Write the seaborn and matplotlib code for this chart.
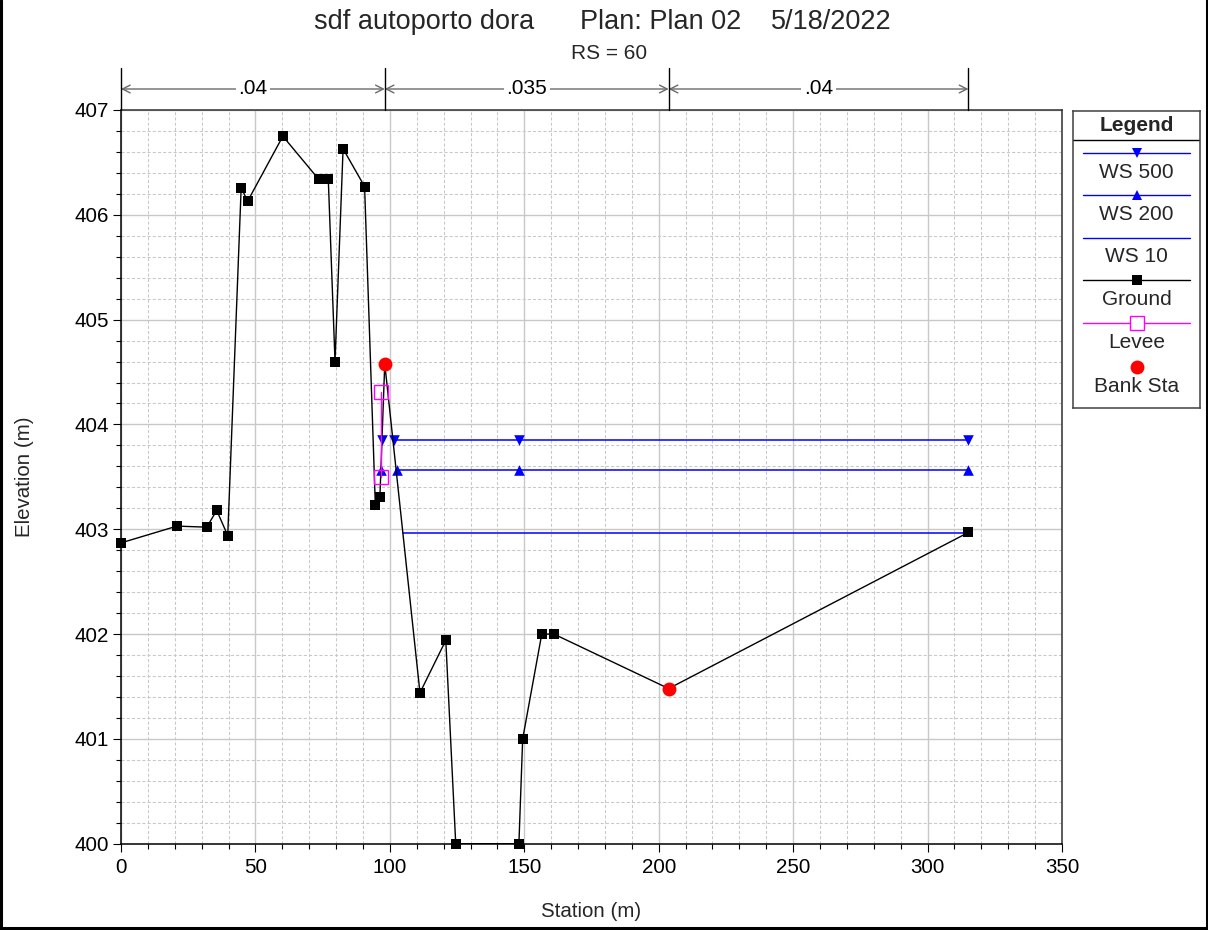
import numpy as np
import pandas as pd
import matplotlib
matplotlib.use("Agg")
import matplotlib.pyplot as plt
import matplotlib.transforms as mtransforms
from matplotlib.lines import Line2D
from matplotlib.ticker import MultipleLocator, FixedLocator
import seaborn as sns

# ---------------- cross-section data ----------------
ground_station = [0.0, 20.8, 31.9, 35.6, 39.7, 44.7, 47.1, 60.2, 73.5, 77.1,
                  79.6, 82.6, 90.6, 94.6, 96.3, 98.1, 111.2, 120.8, 124.5,
                  148.0, 149.4, 156.5, 161.0, 203.7, 315.2]
ground_elev = [402.87, 403.03, 403.02, 403.18, 402.94, 406.26, 406.13, 406.75,
               406.34, 406.34, 404.60, 406.63, 406.27, 403.23, 403.31, 404.58,
               401.44, 401.94, 400.00, 400.00, 401.00, 402.00, 402.00, 401.48,
               402.97]

bank_station = [98.1, 203.7]
bank_elev = [404.58, 401.48]

levee_station = [96.65, 96.65]
levee_elev = [404.31, 403.50]

ws500_elev = 403.85
ws500_segments = [(96.65, 97.07), (101.15, 315.2)]
ws500_marks = [96.9, 101.5, 148.0, 315.2]

ws200_elev = 403.57
ws200_segments = [(96.65, 96.68), (102.3, 315.2)]
ws200_marks = [96.65, 102.6, 148.0, 315.2]

ws10_elev = 402.96
ws10_segments = [(104.9, 315.2)]

n_bounds = [0.0, 98.1, 203.7, 315.2]
n_values = [".04", ".035", ".04"]

x_ticks = [0, 50, 100, 150, 200, 250, 300, 350]
y_ticks = [400, 401, 402, 403, 404, 405, 406, 407]

legend_labels = ["WS 500", "WS 200", "WS 10", "Ground", "Levee", "Bank Sta"]

title_parts = ["sdf autoporto dora", "Plan: Plan 02", "5/18/2022"]
subtitle = "RS = 60"

# ---------------- style ----------------
sns.set_style("white")
plt.rcParams["font.family"] = ["Liberation Sans", "DejaVu Sans"]

W, H = 1208, 930
fig = plt.figure(figsize=(W / 100, H / 100), dpi=100)
fig.patch.set_facecolor("white")

# main axes placed in pixel terms
L, R, T, B = 121, 1062, 110, 843.7
ax = fig.add_axes([L / W, 1 - B / H, (R - L) / W, (B - T) / H])
ax.set_facecolor("white")

BLUE = "#0000ff"
MAG = "#ff00ff"
RED = "#ff0000"


def ws_frame(segments, elev):
    rows = []
    for i, (a, b) in enumerate(segments):
        rows.append((i, a, elev))
        rows.append((i, b, elev))
    return pd.DataFrame(rows, columns=["seg", "station", "elev"])


# water surfaces
for segs, elev in [(ws10_segments, ws10_elev), (ws200_segments, ws200_elev),
                   (ws500_segments, ws500_elev)]:
    sns.lineplot(data=ws_frame(segs, elev), x="station", y="elev", units="seg",
                 estimator=None, color=BLUE, lw=1.1, ax=ax, legend=False, zorder=3)

sns.scatterplot(x=ws500_marks, y=[ws500_elev] * len(ws500_marks), marker="v",
                s=58, color=BLUE, edgecolor=BLUE, linewidth=0, ax=ax, zorder=4)
sns.scatterplot(x=ws200_marks, y=[ws200_elev] * len(ws200_marks), marker="^",
                s=58, color=BLUE, edgecolor=BLUE, linewidth=0, ax=ax, zorder=4)

# ground profile: line, then square markers at every point except the bank stations
sns.lineplot(x=ground_station, y=ground_elev, sort=False, estimator=None,
             color="black", lw=1.0, ax=ax, zorder=5)
gs = np.array(ground_station)
ge = np.array(ground_elev)
keep = ~np.isin(gs, bank_station)
sns.scatterplot(x=gs[keep], y=ge[keep], marker="s", s=6.8 ** 2, color="black",
                edgecolor="black", linewidth=0, ax=ax, zorder=5, clip_on=False)

# levee
sns.lineplot(x=levee_station, y=levee_elev, sort=False, estimator=None,
             color=MAG, lw=1.0, marker="s", markersize=9.5,
             markerfacecolor="none", markeredgecolor=MAG, markeredgewidth=1.0,
             ax=ax, zorder=6)

# bank stations
sns.scatterplot(x=bank_station, y=bank_elev, s=100, color=RED, edgecolor=RED,
                linewidth=0, ax=ax, zorder=10)

# axes, ticks, grid
ax.set_xlim(0, 350)
ax.set_ylim(400, 407)
ax.xaxis.set_major_locator(FixedLocator(x_ticks))
ax.yaxis.set_major_locator(FixedLocator(y_ticks))
ax.xaxis.set_minor_locator(MultipleLocator(10))
ax.yaxis.set_minor_locator(MultipleLocator(0.2))
ax.set_xticklabels([str(v) for v in x_ticks])
ax.set_yticklabels([str(v) for v in y_ticks])
ax.grid(which="major", color="#c8c8c8", lw=1.0, linestyle="-", zorder=0)
ax.grid(which="minor", color="#c8c8c8", lw=0.75, linestyle=(0, (3, 2)), zorder=0)
ax.set_axisbelow(True)
ax.tick_params(which="major", direction="out", length=5.8, width=0.8,
               color="black", labelsize=14.8, pad=3, labelcolor="black")
ax.tick_params(which="minor", direction="out", length=3.6, width=0.8,
               color="black")
ax.tick_params(axis="x", which="major", pad=4.5)
ax.tick_params(left=True, bottom=True, which="both")
for side in ["left", "bottom"]:
    ax.spines[side].set_color("black")
    ax.spines[side].set_linewidth(1.1)
for side in ["top", "right"]:
    ax.spines[side].set_color("#303030")
    ax.spines[side].set_linewidth(1.1)

ax.set_xlabel("Station (m)", fontsize=14.8, va="baseline")
ax.xaxis.set_label_coords(0.5, -(917 - B) / (B - T))
ax.set_ylabel("Elevation (m)", fontsize=14.8, va="center")
ax.yaxis.set_label_coords(-(L - 25) / (R - L), 0.5)

# Manning's n band above the plot
trans = mtransforms.blended_transform_factory(ax.transData, fig.transFigure)
y_top, y_bot, y_arr = 1 - 68 / H, 1 - T / H, 1 - 89 / H
for xb in n_bounds:
    fig.add_artist(Line2D([xb, xb], [y_top, y_bot], transform=trans,
                          color="black", lw=1.0))
for (a, b), lab in zip(zip(n_bounds[:-1], n_bounds[1:]), n_values):
    ax.annotate("", xy=(b, y_arr), xytext=(a, y_arr), xycoords=trans,
                textcoords=trans, annotation_clip=False,
                arrowprops=dict(arrowstyle="<->,head_length=0.55,head_width=0.28",
                                color="#6a6a6a", lw=1.0, shrinkA=0, shrinkB=0))
    ax.text((a + b) / 2, y_arr, lab, transform=trans, ha="center", va="center",
            fontsize=15, color="black",
            bbox=dict(facecolor="white", edgecolor="none", pad=2))

# titles
for txt, px in zip(title_parts, [314, 580, 771]):
    fig.text(px / W, 1 - 29 / H, txt, ha="left", va="baseline", fontsize=19.5)
fig.text(609.5 / W, 1 - 59 / H, subtitle, ha="center", va="baseline", fontsize=15)

# legend panel
LX0, LX1, LY0, LY1 = 1073, 1200, 111, 408
lax = fig.add_axes([LX0 / W, 1 - LY1 / H, (LX1 - LX0) / W, (LY1 - LY0) / H])
lax.set_xlim(LX0, LX1)
lax.set_ylim(LY1, LY0)
lax.set_xticks([])
lax.set_yticks([])
lax.set_facecolor("white")
for sp in lax.spines.values():
    sp.set_color("#404040")
    sp.set_linewidth(1.1)
lax.axhline(140, color="black", lw=1.0)
lax.text((LX0 + LX1) / 2, 126, "Legend", ha="center", va="center",
         fontsize=15, fontweight="bold")

xs = [1083, 1190]
xc = (xs[0] + xs[1]) / 2
line_y = [153, 195.5, 238, 280.5, 323, 367]
styles = [
    dict(color=BLUE, marker="v", ms=7.6, mfc=BLUE, mec=BLUE, show_line=True),
    dict(color=BLUE, marker="^", ms=7.6, mfc=BLUE, mec=BLUE, show_line=True),
    dict(color=BLUE, marker=None, ms=0, mfc=BLUE, mec=BLUE, show_line=True),
    dict(color="black", marker="s", ms=6.8, mfc="black", mec="black", show_line=True),
    dict(color=MAG, marker="s", ms=9.5, mfc="white", mec=MAG, show_line=True),
    dict(color=RED, marker="o", ms=10, mfc=RED, mec=RED, show_line=False),
]
for lab, yy, st in zip(legend_labels, line_y, styles):
    if st["show_line"]:
        lax.plot(xs, [yy, yy], color=st["color"], lw=1.0)
    if st["marker"]:
        lax.plot([xc], [yy], marker=st["marker"], ms=st["ms"], mfc=st["mfc"],
                 mec=st["mec"], mew=1.0 if st["mfc"] == "white" else 0,
                 linestyle="none")
    lax.text(xc, yy + 19, lab, ha="center", va="center", fontsize=15)

# outer frame
for seg in [([0.001, 0.001], [0, 1]), ([0.999, 0.999], [0, 1]), ([0, 1], [0.002, 0.002])]:
    fig.add_artist(Line2D(seg[0], seg[1], transform=fig.transFigure,
                          color="black", lw=2.2))

fig.savefig("out.png", dpi=100, facecolor="white")
